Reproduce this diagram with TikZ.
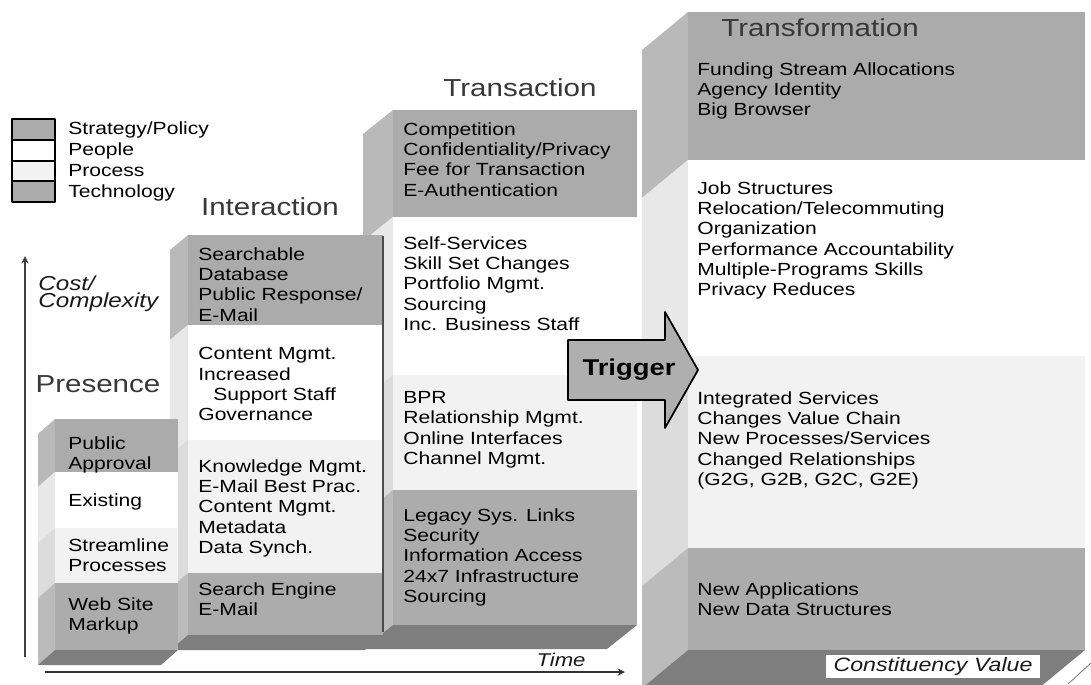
\documentclass[tikz,border=0pt]{standalone}
\usepackage{fontspec}
\setmainfont[FakeStretch=1.2]{Liberation Sans}
\usetikzlibrary{arrows}
\definecolor{stratgray}{HTML}{ABABAB}
\definecolor{stratside}{HTML}{B9B9B9}
\definecolor{pplside}{HTML}{E8E8E8}
\definecolor{procgray}{HTML}{F2F2F2}
\definecolor{procside}{HTML}{DCDCDC}
\definecolor{techgray}{HTML}{ACACAC}
\definecolor{techside}{HTML}{BBBBBB}
\definecolor{floorgray}{HTML}{7E7E7E}
\definecolor{triggray}{HTML}{AFAFAF}
\begin{document}
\begin{tikzpicture}[x=0.02cm, y=-0.02cm, >=stealth, line join=round,
	txt/.style={anchor=north west, align=left, inner sep=0pt, text=black, font=\fontsize{10}{11.6}\selectfont},
	ttl/.style={inner sep=0pt, text=black!78, font=\fontsize{14}{16}\selectfont},
	itl/.style={inner sep=0pt, text=black!90, font=\itshape\fontsize{11}{10}\selectfont}]
	\useasboundingbox (0,0) rectangle (1091,684);
	% Transformation
	\foreach \ya/\yb/\fr/\sd in {12/160/stratgray/stratside, 160/356/white/pplside, 356/548/procgray/procside, 548/650/techgray/techside}{
		\fill[\sd] (688,\ya) -- (688,\yb) -- ++(-46,38) -- ++(0,{\ya-\yb}) -- cycle;
		\fill[\fr] (688,\ya) rectangle (1085,\yb);}
	\fill[floorgray] (688,650) -- (1085,650) -- ++(-46,38) -- ++(-397,0) -- cycle;
	% Transaction
	\foreach \ya/\yb/\fr/\sd in {110/217/stratgray/stratside, 217/375/white/pplside, 375/490/procgray/procside, 490/625/techgray/techside}{
		\fill[\sd] (393,\ya) -- (393,\yb) -- ++(-30,24) -- ++(0,{\ya-\yb}) -- cycle;
		\fill[\fr] (393,\ya) rectangle (637,\yb);}
	\fill[floorgray] (393,625) -- (637,625) -- ++(-30,24) -- ++(-244,0) -- cycle;
	% Interaction
	\foreach \ya/\yb/\fr/\sd in {235/325/stratgray/stratside, 325/440/white/pplside, 440/573/procgray/procside, 573/635/techgray/techside}{
		\fill[\sd] (188,\ya) -- (188,\yb) -- ++(-18,15) -- ++(0,{\ya-\yb}) -- cycle;
		\fill[\fr] (188,\ya) rectangle (383,\yb);}
	\fill[floorgray] (188,635) -- (383,635) -- ++(-18,15) -- ++(-195,0) -- cycle;
	\draw[black!70, line width=1.2pt] (383,236) -- (383,632);
	% Presence
	\foreach \ya/\yb/\fr/\sd in {419/472/stratgray/stratside, 472/528/white/pplside, 528/583/procgray/procside, 583/650/techgray/techside}{
		\fill[\sd] (55,\ya) -- (55,\yb) -- ++(-17,15) -- ++(0,{\ya-\yb}) -- cycle;
		\fill[\fr] (55,\ya) rectangle (178,\yb);}
	\fill[floorgray] (55,650) -- (178,650) -- ++(-17,15) -- ++(-123,0) -- cycle;
	% legend
	\foreach \ya/\yb/\c in {119/140/stratgray, 140/161/white, 161/181/procgray, 181/202/techgray}
		\draw[line width=0.9pt, fill=\c] (12,\ya) rectangle (55,\yb);
	\node[txt, font=\fontsize{10}{12}\selectfont] (lgd) at (68,121) {Strategy/Policy\\People\\Process\\Technology};
	% titles
	\node[ttl] (preTtl) at (98,384) {Presence};
	\node[ttl] (intTtl) at (270,207) {Interaction};
	\node[ttl] (traTtl) at (520,88) {Transaction};
	\node[ttl] (trfTtl) at (820,28) {Transformation};
	% texts
	\node[txt] (preS) at (68,436) {Public\\Approval};
	\node[txt] (preP) at (68,493) {Existing};
	\node[txt] (preR) at (68,538) {Streamline\\Processes};
	\node[txt] (preT) at (68,597) {Web Site\\Markup};
	\node[txt] (intS) at (198,247) {Searchable\\Database\\Public Response/\\E-Mail};
	\node[txt] (intP) at (198,347) {Content Mgmt.\\Increased\\\hspace*{8.5pt}Support Staff\\Governance};
	\node[txt] (intR) at (198,459) {Knowledge Mgmt.\\E-Mail Best Prac.\\Content Mgmt.\\Metadata\\Data Synch.};
	\node[txt] (intT) at (198,582) {Search Engine\\E-Mail};
	\node[txt] (traS) at (403,122) {Competition\\Confidentiality/Privacy\\Fee for Transaction\\E-Authentication};
	\node[txt] (traP) at (403,236) {Self-Services\\Skill Set Changes\\Portfolio Mgmt.\\Sourcing\\Inc. Business Staff};
	\node[txt] (traR) at (403,391) {BPR\\Relationship Mgmt.\\Online Interfaces\\Channel Mgmt.};
	\node[txt] (traT) at (403,508) {Legacy Sys. Links\\Security\\Information Access\\24x7 Infrastructure\\Sourcing};
	\node[txt] (trfS) at (697,62) {Funding Stream Allocations\\Agency Identity\\Big Browser};
	\node[txt] (trfP) at (697,181) {Job Structures\\Relocation/Telecommuting\\Organization\\Performance Accountability\\Multiple-Programs Skills\\Privacy Reduces};
	\node[txt] (trfR) at (697,391) {Integrated Services\\Changes Value Chain\\New Processes/Services\\Changed Relationships\\(G2G, G2B, G2C, G2E)};
	\node[txt] (trfT) at (697,582) {New Applications\\New Data Structures};
	% trigger
	\draw[fill=triggray, line width=1pt] (568,340) -- (665,340) -- (665,312) -- (698,370) -- (665,428) -- (665,400) -- (568,400) -- cycle;
	\node[inner sep=0pt, text=black, font=\bfseries\fontsize{13}{15}\selectfont] (trig) at (629,370) {Trigger};
	% axes
	\coordinate (vlow) at (25,657);
	\coordinate (vtop) at (25,256);
	\coordinate (hlow) at (45,672);
	\coordinate (htip) at (625,672);
	\draw[->, line width=0.9pt, black!75] (vlow) -- (vtop);
	\draw[->, line width=0.9pt, black!80] (hlow) -- (htip);
	\node[itl, anchor=north west, align=left, font=\itshape\fontsize{11.5}{10}\selectfont] (cost) at (38,275) {Cost/\\Complexity};
	\node[itl, font=\itshape\fontsize{10.5}{12}\selectfont] (time) at (561,660) {Time};
	\node[itl, fill=white, minimum width=4.28cm, minimum height=0.46cm] (cval) at (933,666) {Constituency Value};
	\draw[black!60] (1068,684) -- (1091,663);
\end{tikzpicture}
\end{document}
